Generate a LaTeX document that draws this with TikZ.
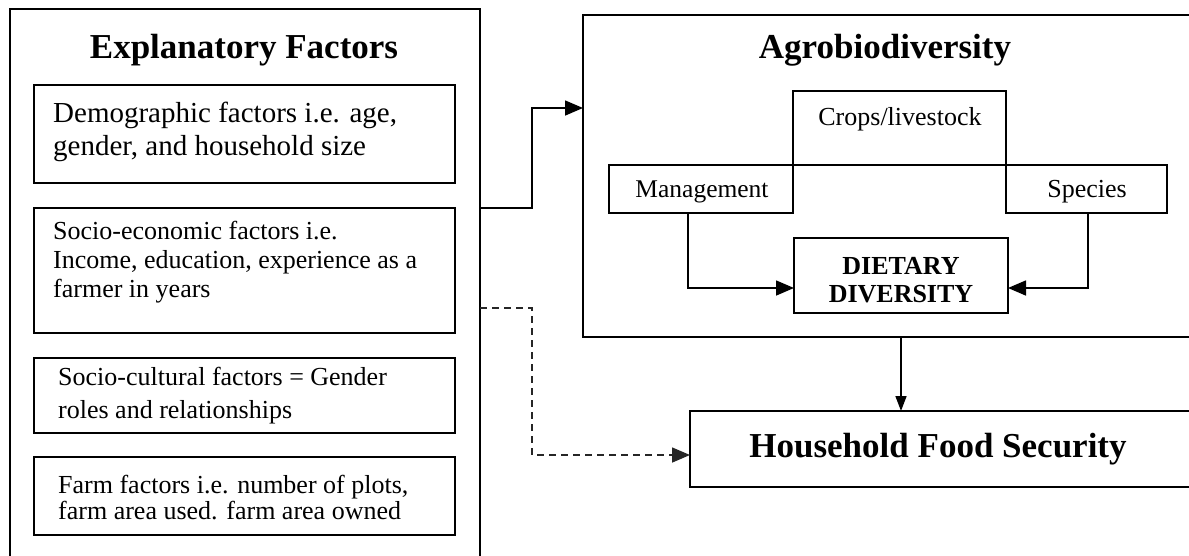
\documentclass[tikz,border=0pt]{standalone}
\usepackage{fontspec}
\setmainfont{Liberation Serif}
\usetikzlibrary{arrows.meta}

\begin{document}
\begin{tikzpicture}[x=1pt,y=-1pt,
  frame/.style={draw=black, line width=1.8pt, inner sep=0pt, outer sep=0pt},
  conn/.style={line width=1.6pt, -{Triangle[length=18pt,width=15pt]}},
  dashconn/.style={conn, dash pattern=on 7pt off 5pt, draw=black!85},
  heading/.style={font=\bfseries\fontsize{35}{40}\selectfont, inner sep=0pt, anchor=base},
  bodytext/.style={inner sep=0pt, anchor=base west, align=left},
  caption/.style={inner sep=0pt, anchor=base, font=\fontsize{26}{30}\selectfont},
]
\useasboundingbox (0,0) rectangle (1189,555);
\clip (0,0) rectangle (1189,555);

% left column: explanatory factors (multi-line texts are placed by their last baseline)
\node[frame, minimum width=470pt, minimum height=561pt] (explan) at (245,289.5) {};
\node[frame, minimum width=421pt, minimum height=98pt]  (demo)   at (244.5,134) {};
\node[frame, minimum width=421pt, minimum height=125pt] (socio)  at (244.5,270.5) {};
\node[frame, minimum width=421pt, minimum height=75pt]  (cult)   at (244.5,395.5) {};
\node[frame, minimum width=421pt, minimum height=78pt]  (farm)   at (244.5,496) {};

\node[heading] (explantitle) at (244,58) {Explanatory Factors};
\node[bodytext, font=\fontsize{29}{33}\selectfont] (demotext) at (53,155)
  {Demographic factors i.e. age,\\gender, and household size};
\node[bodytext, font=\fontsize{26}{29}\selectfont] (sociotext) at (53,297)
  {Socio-economic factors i.e.\\Income, education, experience as a\\farmer in years};
\node[bodytext, font=\fontsize{26}{33}\selectfont] (culttext) at (58,418)
  {Socio-cultural factors = Gender\\roles and relationships};
\node[bodytext, font=\fontsize{26}{26}\selectfont] (farmtext) at (58,519)
  {Farm factors i.e. number of plots,\\farm area used. farm area owned};

% right column: agrobiodiversity and food security
\node[frame, minimum width=617pt, minimum height=322pt] (agro)    at (891.5,176) {};
\node[frame, minimum width=213pt, minimum height=74pt]  (crops)   at (899.5,128) {};
\node[frame, minimum width=184pt, minimum height=48pt]  (mgmt)    at (701,189) {};
\node[frame, minimum width=161pt, minimum height=48pt]  (species) at (1086.5,189) {};
\node[frame, minimum width=214pt, minimum height=75pt]  (diet)    at (901,275.5) {};
\node[frame, minimum width=510pt, minimum height=76pt]  (hfs)     at (945,449) {};

\node[heading] (agrotitle) at (885,58) {Agrobiodiversity};
\node[caption] (cropstext) at (900,125) {Crops/livestock};
\node[caption, font=\fontsize{25.5}{28}\selectfont] (mgmttext) at (702,197) {Management};
\node[caption] (speciestext) at (1087,197) {Species};
\node[caption, font=\bfseries\fontsize{26}{28}\selectfont, align=center] (diettext) at (901,302)
  {DIETARY\\DIVERSITY};
\node[heading] (hfstitle) at (938,457) {Household Food Security};

% bend points of the connectors
\coordinate (j1) at (532,108);
\coordinate (j2) at (532,308);
\coordinate (j3) at (532,455);
\coordinate (m1) at (688,288);
\coordinate (s1) at (1088,288);

\draw[conn] (explan.east |- socio.north) -| (j1) -- (agro.west |- j1);
\draw[dashconn] (explan.east |- j2) -- (j2) -- (j3) -- (hfs.west |- j3);
\draw[conn] (mgmt.south -| m1) |- (diet.west |- m1);
\draw[conn] (species.south -| s1) |- (diet.east |- s1);
\draw[conn, -{Triangle[length=15pt,width=11pt]}] (agro.south -| diet.center) -- (hfs.north -| diet.center);
\end{tikzpicture}
\end{document}
